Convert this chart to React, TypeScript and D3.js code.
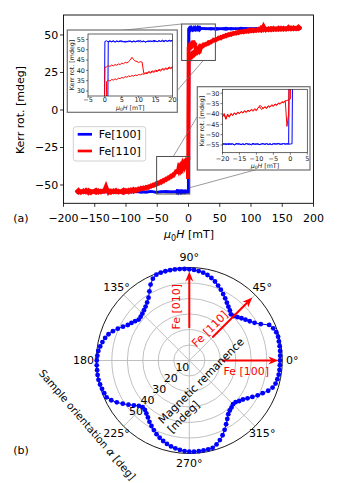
import React from 'react';
import * as d3 from 'd3';

// ---------------- data ----------------
const H_NEG_RED = d3.range(-180, -20, 4); // -180 .. -24
const H_POS_RED = d3.range(24, 181, 4); // 24 .. 180
const H_FINE = d3.range(-20, 20.25, 0.5); // -20 .. 20
const H_NEG_BLUE = d3.range(-180, -20, 8); // -180 .. -28
const H_POS_BLUE = d3.range(28, 181, 8); // 28 .. 180

const redUpNeg = [-54.8,-53.2,-55.1,-53.6,-54.9,-53.4,-55.3,-54.0,-53.1,-55.0,-53.8,-54.6,-50.5,-55.2,-53.7,-54.8,-53.3,-55.0,-54.1,-53.0,-54.6,-53.2,-54.4,-52.6,-53.9,-52.3,-53.1,-51.6,-52.4,-50.8,-51.2,-49.6,-50.1,-48.2,-48.6,-46.5,-46.9,-44.8,-44.9,-42.6];
const redDownNeg = [-53.6,-55.2,-54.1,-54.9,-53.3,-55.4,-53.9,-54.7,-55.3,-53.6,-54.9,-53.5,-54.2,-53.4,-55.1,-53.6,-54.9,-53.8,-54.7,-55.4,-53.5,-54.8,-53.0,-54.5,-52.8,-53.6,-51.9,-52.8,-51.2,-51.9,-50.2,-50.6,-48.8,-49.3,-47.4,-47.8,-45.6,-45.9,-43.6,-43.9];
const redUpPos = [42.6,44.2,44.0,45.8,45.9,47.4,47.3,48.8,48.6,50.1,49.6,51.0,50.6,51.8,51.2,52.4,51.7,53.0,52.1,53.4,52.4,53.7,52.8,54.9,53.0,54.2,53.1,54.6,53.3,54.4,53.4,54.8,53.5,54.6,53.7,55.0,53.8,54.9,53.9,55.3];
const redDownPos = [43.8,43.5,45.3,44.9,46.9,46.5,48.2,47.7,49.4,49.0,50.6,50.0,51.5,50.9,52.3,51.6,52.8,52.0,53.5,52.5,53.8,52.7,54.1,52.9,56.2,53.1,54.5,53.2,54.7,53.4,54.9,53.5,54.8,53.6,55.4,53.7,55.1,53.9,55.6,54.2];
const redUpFine = [-41.5,-39.8,-42.3,-40.5,-41.6,-39.9,-40.8,-39.6,-40.4,-39.2,-39.9,-38.8,-39.6,-38.6,-39.3,-38.4,-38.9,-38.0,-38.7,-37.9,-38.4,-36.9,-36.6,-37.8,-37.2,-36.8,-37.4,-36.3,-36.8,-35.9,-36.3,-35.4,-35.9,-34.9,-35.3,-34.4,-34.6,-33.8,-33.5,-33.2,-32.8,34.6,35.2,34.8,35.6,35.3,35.9,35.5,36.2,36.0,36.6,36.3,37.0,36.7,37.3,37.0,37.5,37.2,37.8,37.5,38.0,37.8,38.3,38.1,38.6,38.4,39.0,38.7,39.3,39.1,39.6,39.4,40.1,39.7,40.5,40.1,40.8,40.4,41.2,40.8,41.5];
const redDownFine = [-41.0,-40.3,-42.6,-40.0,-41.2,-39.8,-40.6,-39.5,-40.1,-39.1,-39.7,-38.9,-39.3,-38.5,-39.0,-38.2,-38.6,-37.8,-38.3,-37.5,-37.9,-37.2,-35.9,-36.4,-37.3,-36.5,-36.9,-36.1,-36.5,-35.6,-36.0,-35.2,-35.6,-34.7,-35.0,-34.1,-34.3,-33.6,-46.0,-40.0,41.5,41.7,42.3,41.9,42.6,42.2,42.8,42.5,43.1,42.8,43.5,43.2,43.9,43.6,44.2,45.0,46.3,45.2,44.5,44.3,43.8,44.2,44.0,38.6,38.7,38.9,39.4,39.1,39.7,39.5,40.1,39.8,40.4,40.2,40.9,40.5,41.1,40.9,41.6,41.2,41.8];

const blueUpNeg = [-54.3,-54.9,-54.1,-54.7,-54.4,-55.0,-54.2,-54.8,-54.5,-54.0,-54.9,-54.3,-54.7,-54.2,-55.0,-54.4,-54.8,-54.3,-54.6,-54.5];
const blueDownNeg = [-54.8,-54.2,-54.9,-54.4,-54.7,-54.1,-54.8,-54.3,-55.1,-54.6,-54.2,-54.8,-54.4,-55.0,-54.5,-54.3,-54.9,-54.6,-54.2,-54.7];
const blueUpPos = [53.9,54.4,53.7,54.2,54.6,53.8,54.3,54.0,54.5,53.9,54.4,53.6,54.2,54.7,53.9,54.3,54.0,54.5,53.8,54.2];
const blueDownPos = [54.3,53.8,54.5,54.1,53.7,54.4,53.9,54.6,54.0,54.3,53.8,54.5,54.1,53.9,54.6,54.2,53.8,54.4,54.0,54.3];
const blueUpFine = [-54.6,-54.3,-54.8,-54.5,-54.2,-54.7,-54.4,-54.9,-54.5,-54.3,-54.6,-54.8,-54.4,-54.7,-54.3,-54.5,-54.9,-54.6,-54.2,-54.5,-54.7,-54.4,-54.8,-54.5,-54.3,-54.6,-54.4,-54.8,-54.5,-54.7,-54.3,-54.6,-54.4,-54.2,-54.5,-54.6,-54.3,-54.5,-54.4,-54.6,-54.5,-54.4,53.9,54.3,53.8,54.1,53.7,54.2,53.9,54.4,53.8,54.0,53.6,54.1,53.9,54.3,53.7,54.0,53.8,54.2,53.9,54.5,53.8,54.1,53.7,54.0,54.3,53.9,54.1,53.8,54.2,53.9,54.4,54.0,54.6,54.2,54.5,54.0,54.3,54.1,54.4];
const blueDownFine = [-54.4,-54.7,-54.3,-54.6,-54.8,-54.4,-54.5,-54.9,-54.3,-54.6,-54.4,-54.7,-54.5,-54.8,-54.3,-54.6,-54.4,-54.9,-54.5,-54.7,-54.3,-54.6,-54.8,-54.4,-54.5,-54.7,-54.3,-54.6,-54.4,-54.8,-54.5,-54.3,-54.6,-54.4,-54.7,-54.5,-54.3,-54.6,-54.4,-54.5,54.0,54.3,53.8,54.1,53.9,54.4,53.7,54.2,53.9,54.0,54.3,53.8,54.1,53.7,54.2,54.0,53.8,54.3,53.9,54.1,54.4,53.8,54.0,54.2,53.7,54.1,53.9,54.3,54.0,54.6,54.1,53.9,54.3,54.0,54.2,53.8,54.4,54.1,54.6,54.3,54.5];

const seriesNames = ['Fe[100]', 'Fe[110]'];
const seriesColors = ['#0000ff', '#ff0000'];

const mainXTicks = [-200, -150, -100, -50, 0, 50, 100, 150, 200];
const mainYTicks = [-50, -25, 0, 25, 50];
const inset1XTicks = [-5, 0, 5, 10, 15, 20];
const inset1YTicks = [30, 35, 40, 45, 50, 55];
const inset2XTicks = [-20, -15, -10, -5, 0, 5];
const inset2YTicks = [-55, -50, -45, -40, -35, -30];

// polar: sample orientation (deg) every 3 deg, remanence (mdeg)
const polarAngles = d3.range(0, 360, 3);
const polarRemanence = [58.5,58.7,58.9,59.0,59.1,59.3,59.0,58.0,56.4,51.8,48.6,46.5,44.8,43.3,41.8,40.6,40.1,41.6,42.9,44.5,46.3,48.1,50.0,51.8,53.6,55.1,56.4,57.4,58.0,58.5,58.8,59.1,59.3,59.5,59.6,59.6,59.6,59.3,57.8,55.0,51.5,48.3,46.3,44.8,43.7,42.8,42.2,42.0,43.2,44.5,45.8,48.0,50.5,52.8,54.8,56.2,57.3,58.2,59.0,59.4,59.7,59.8,59.8,59.9,59.9,59.6,59.2,58.8,58.4,56.5,54.0,51.2,48.5,46.0,43.8,42.6,42.8,44.0,45.4,47.2,48.8,50.4,52.0,53.4,54.6,55.7,56.7,57.4,58.0,58.5,58.8,58.9,58.8,58.7,58.6,58.3,56.9,55.0,52.8,50.2,47.5,45.0,42.8,41.5,40.7,39.9,40.2,41.5,42.8,44.8,47.0,49.5,51.8,54.5,56.5,57.6,58.1,58.4,58.5,58.5];
const polarRTicks = [10, 20, 30, 40, 50];
const polarThetaTicks = [0, 45, 90, 135, 180, 225, 270, 315];
const crystalAxes = [
  { name: 'Fe [100]', angle: 0 },
  { name: 'Fe [110]', angle: 45 },
  { name: 'Fe [010]', angle: 90 },
];

// ---------------- helpers ----------------
type Pt = [number, number];
const zip = (xs: number[], ys: number[]): Pt[] => xs.map((x, i) => [x, ys[i]] as Pt);
const redUp: Pt[] = [...zip(H_NEG_RED, redUpNeg), ...zip(H_FINE, redUpFine), ...zip(H_POS_RED, redUpPos)];
const redDown: Pt[] = [...zip(H_NEG_RED, redDownNeg), ...zip(H_FINE, redDownFine), ...zip(H_POS_RED, redDownPos)];
const blueUp: Pt[] = [...zip(H_NEG_BLUE, blueUpNeg), ...zip(H_FINE, blueUpFine), ...zip(H_POS_BLUE, blueUpPos)];
const blueDown: Pt[] = [...zip(H_NEG_BLUE, blueDownNeg), ...zip(H_FINE, blueDownFine), ...zip(H_POS_BLUE, blueDownPos)];
const blueBranches = [blueUp, blueDown];
const redBranches = [redUp, redDown];

const fmt = (v: number) => (v < 0 ? '\u2212' + Math.abs(v) : String(v));
const FONT = 'DejaVu Sans, sans-serif';

// ---------------- layout ----------------
const mainX = d3.scaleLinear().domain([-200, 200]).range([63.5, 313.5]);
const mainY = d3.scaleLinear().domain([-62.2, 63.3]).range([203.3, 15]);

const in1X = d3.scaleLinear().domain([-5, 20]).range([88, 172.5]);
const in1Y = d3.scaleLinear().domain([27.6, 57.6]).range([96, 34]);
const in2X = d3.scaleLinear().domain([-20, 5]).range([222.5, 307.3]);
const in2Y = d3.scaleLinear().domain([-58.7, -28.1]).range([152.7, 89.3]);

const box1 = { x0: -11, x1: 43, y0: 33, y1: 57.3 };
const box2 = { x0: -51, x1: 2, y0: -56, y1: -31 };

const cx = 189.3, cy = 360.5;
const rScale = d3.scaleLinear().domain([0, 60]).range([0, 93]);
const polarPt = (deg: number, r: number): Pt => {
  const a = (deg * Math.PI) / 180;
  return [cx + rScale(r) * Math.cos(a), cy - rScale(r) * Math.sin(a)];
};

function Inset(props: {
  id: string; xs: any; ys: any; xTicks: number[]; yTicks: number[];
  frame: { x: number; y: number; w: number; h: number };
  ylabelX: number; tickY: number; xlabelY: number;
}) {
  const { id, xs, ys, xTicks, yTicks, frame, ylabelX, tickY, xlabelY } = props;
  const [xa, xb] = xs.range();
  const [yb, ya] = ys.range();
  const line = d3.line<Pt>().x((d) => xs(d[0])).y((d) => ys(d[1]));
  return (
    <g>
      <rect x={frame.x} y={frame.y} width={frame.w} height={frame.h} fill="#fff" stroke="#6e6e6e" strokeWidth={1.2} />
      <clipPath id={id}><rect x={xa} y={ya} width={xb - xa} height={yb - ya} /></clipPath>
      <g clipPath={`url(#${id})`}>
        {blueBranches.map((b, i) => <path key={'b' + i} d={line(b) || ''} fill="none" stroke={seriesColors[0]} strokeWidth={1} />)}
        {redBranches.map((b, i) => <path key={'r' + i} d={line(b) || ''} fill="none" stroke={seriesColors[1]} strokeWidth={1} />)}
      </g>
      <rect x={xa} y={ya} width={xb - xa} height={yb - ya} fill="none" stroke="#222" strokeWidth={0.7} />
      {xTicks.map((t) => (
        <g key={'x' + t}>
          <line x1={xs(t)} x2={xs(t)} y1={yb} y2={yb + 2} stroke="#222" strokeWidth={0.6} />
          <text x={xs(t)} y={tickY} fontSize={6.5} textAnchor="middle" fontFamily={FONT} fill="#222">{fmt(t)}</text>
        </g>
      ))}
      {yTicks.map((t) => (
        <g key={'y' + t}>
          <line x1={xa - 2} x2={xa} y1={ys(t)} y2={ys(t)} stroke="#222" strokeWidth={0.6} />
          <text x={xa - 3} y={ys(t) + 2.3} fontSize={6.5} textAnchor="end" fontFamily={FONT} fill="#222">{fmt(t)}</text>
        </g>
      ))}
      <text x={(xa + xb) / 2} y={xlabelY} fontSize={6.3} textAnchor="middle" fontFamily={FONT} fill="#222">
        <tspan fontStyle="italic">μ</tspan><tspan fontSize={4.5} dy={1.2}>0</tspan><tspan fontStyle="italic" dy={-1.2}>H</tspan> [mT]
      </text>
      <text transform={`translate(${ylabelX},${(ya + yb) / 2}) rotate(-90)`} fontSize={6.3} textAnchor="middle" dominantBaseline="central" fontFamily={FONT} fill="#222">Kerr rot. [mdeg]</text>
    </g>
  );
}

function Arrow({ angle }: { angle: number }) {
  const [x0, y0] = polarPt(angle, 21);
  const [x1, y1] = polarPt(angle, 57.5);
  const a = (angle * Math.PI) / 180;
  const ux = Math.cos(a), uy = -Math.sin(a);
  const px = -uy, py = ux;
  const L = 10, Wd = 4, notch = 3;
  const head = [
    [x1, y1],
    [x1 - ux * L + px * Wd, y1 - uy * L + py * Wd],
    [x1 - ux * (L - notch), y1 - uy * (L - notch)],
    [x1 - ux * L - px * Wd, y1 - uy * L - py * Wd],
  ];
  return (
    <g>
      <line x1={x0} y1={y0} x2={x1 - ux * (L - notch)} y2={y1 - uy * (L - notch)} stroke="#ff0000" strokeWidth={2} />
      <path d={'M' + head.map((p) => p.join(',')).join('L') + 'Z'} fill="#ff0000" />
    </g>
  );
}

export default function App() {
  const mainLine = d3.line<Pt>().x((d) => mainX(d[0])).y((d) => mainY(d[1]));
  const [mx0, mx1] = mainX.range();
  const [myb, myt] = mainY.range();
  const closedIdx = [...polarAngles.map((_, i) => i), 0];
  const polarPath = d3.line<number>().x((i) => polarPt(polarAngles[i], polarRemanence[i])[0]).y((i) => polarPt(polarAngles[i], polarRemanence[i])[1])(closedIdx) || '';

  const crystalLabel: Record<string, { x: number; y: number; rot: number }> = {
    'Fe [100]': { x: 246.3, y: 371, rot: 0 },
    'Fe [110]': { x: 210, y: 329.2, rot: -45 },
    'Fe [010]': { x: 176, y: 306.7, rot: -90 },
  };

  return (
    <svg width={340} height={483} style={{ position: 'fixed', left: 0, top: 0, background: '#fff' }} fontFamily={FONT}>
      <rect x={0} y={0} width={340} height={483} fill="#fff" />
      {/* ---------- panel (a) ---------- */}
      <clipPath id="mainclip"><rect x={mx0} y={myt} width={mx1 - mx0} height={myb - myt} /></clipPath>
      <g clipPath="url(#mainclip)">
        {blueBranches.map((b, i) => <path key={'b' + i} d={mainLine(b) || ''} fill="none" stroke={seriesColors[0]} strokeWidth={2.5} />)}
        {redBranches.map((b, i) => <path key={'r' + i} d={mainLine(b) || ''} fill="none" stroke={seriesColors[1]} strokeWidth={3.6} />)}
      </g>
      <rect x={mx0} y={myt} width={mx1 - mx0} height={myb - myt} fill="none" stroke="#000" strokeWidth={0.9} />
      {mainXTicks.map((t) => (
        <g key={'mx' + t}>
          <line x1={mainX(t)} x2={mainX(t)} y1={myb} y2={myb + 3.5} stroke="#000" strokeWidth={0.8} />
          <text x={mainX(t)} y={222} fontSize={11} textAnchor="middle" fill="#000">{fmt(t)}</text>
        </g>
      ))}
      {mainYTicks.map((t) => (
        <g key={'my' + t}>
          <line x1={mx0 - 3.5} x2={mx0} y1={mainY(t)} y2={mainY(t)} stroke="#000" strokeWidth={0.8} />
          <text x={58.3} y={mainY(t) + 4} fontSize={11} textAnchor="end" fill="#000">{fmt(t)}</text>
        </g>
      ))}
      <text x={189} y={238} fontSize={11} textAnchor="middle" fill="#000">
        <tspan fontStyle="italic">μ</tspan><tspan fontSize={8} dy={2.5}>0</tspan><tspan fontStyle="italic" dy={-2.5}>H</tspan> [mT]
      </text>
      <text transform="translate(20,110) rotate(-90)" fontSize={11} textAnchor="middle" dominantBaseline="central" fill="#000">Kerr rot. [mdeg]</text>
      <text x={21} y={221.5} fontSize={11} textAnchor="middle" fill="#000">(a)</text>

      {/* zoom boxes */}
      <rect x={mainX(box1.x0)} y={mainY(box1.y1)} width={mainX(box1.x1) - mainX(box1.x0)} height={mainY(box1.y0) - mainY(box1.y1)} fill="none" stroke="#4d4d4d" strokeWidth={1} />
      <rect x={mainX(box2.x0)} y={mainY(box2.y1)} width={mainX(box2.x1) - mainX(box2.x0)} height={mainY(box2.y0) - mainY(box2.y1)} fill="none" stroke="#4d4d4d" strokeWidth={1} />
      {/* connectors */}
      <line x1={mainX(box1.x0)} y1={mainY(box1.y1)} x2={88} y2={34} stroke="#6e6e6e" strokeWidth={0.7} />
      <line x1={203.3} y1={mainY(box1.y0)} x2={172.5} y2={96} stroke="#6e6e6e" strokeWidth={0.7} />
      <line x1={173.3} y1={mainY(box2.y1)} x2={205} y2={103.7} stroke="#6e6e6e" strokeWidth={0.7} />
      <line x1={mainX(box2.x1)} y1={187.7} x2={256.7} y2={169.5} stroke="#6e6e6e" strokeWidth={0.7} />

      <Inset id="in1" xs={in1X} ys={in1Y} xTicks={inset1XTicks} yTicks={inset1YTicks}
        frame={{ x: 67.3, y: 30, w: 110, h: 82.3 }} ylabelX={71.5} tickY={102.4} xlabelY={110} />
      <Inset id="in2" xs={in2X} ys={in2Y} xTicks={inset2XTicks} yTicks={inset2YTicks}
        frame={{ x: 197.3, y: 86.7, w: 112.7, h: 83.3 }} ylabelX={201} tickY={160.8} xlabelY={168.2} />

      {/* legend */}
      <rect x={73.3} y={126.7} width={72.4} height={34.3} rx={2.5} fill="#fff" fillOpacity={0.8} stroke="#cccccc" strokeWidth={0.9} />
      {seriesNames.map((n, i) => (
        <g key={n}>
          <line x1={77.7} x2={92} y1={134.3 + i * 16.7} y2={134.3 + i * 16.7} stroke={seriesColors[i]} strokeWidth={2.7} />
          <text x={98.7} y={134.3 + i * 16.7 + 4} fontSize={11} fill="#000">{n}</text>
        </g>
      ))}

      {/* ---------- panel (b) ---------- */}
      {polarRTicks.map((r) => (
        <circle key={'rc' + r} cx={cx} cy={cy} r={rScale(r)} fill="none" stroke="#b0b0b0" strokeWidth={0.8} />
      ))}
      {polarThetaTicks.map((t) => {
        const [x, y] = polarPt(t, 60);
        return <line key={'tl' + t} x1={cx} y1={cy} x2={x} y2={y} stroke="#b0b0b0" strokeWidth={0.8} />;
      })}
      <circle cx={cx} cy={cy} r={rScale(60)} fill="none" stroke="#000" strokeWidth={0.9} />
      {polarThetaTicks.map((t) => {
        const a = (t * Math.PI) / 180;
        return (
          <text key={'tt' + t} x={cx + 103 * Math.cos(a)} y={cy - 103 * Math.sin(a)} fontSize={11} textAnchor="middle" dominantBaseline="central" fill="#000">{t}°</text>
        );
      })}
      {polarRTicks.map((r) => {
        const a = (224 * Math.PI) / 180;
        const rr = rScale(r) * 1.04 - 6.5;
        return (
          <text key={'rt' + r} x={cx + rr * Math.cos(a)} y={cy - rr * Math.sin(a)} fontSize={11} textAnchor="middle" dominantBaseline="central" fill="#000">{r}</text>
        );
      })}
      <path d={polarPath} fill="none" stroke="#0000ff" strokeWidth={1} />
      {polarAngles.map((t, i) => {
        const [x, y] = polarPt(t, polarRemanence[i]);
        return <circle key={'pd' + t} cx={x} cy={y} r={2.4} fill="#0000ff" />;
      })}
      {crystalAxes.map((c) => <Arrow key={c.name} angle={c.angle} />)}
      {crystalAxes.map((c) => {
        const p = crystalLabel[c.name];
        return (
          <text key={'cl' + c.name} transform={`translate(${p.x},${p.y}) rotate(${p.rot})`} fontSize={11} textAnchor="middle" dominantBaseline="central" fill="#ff0000">{c.name}</text>
        );
      })}
      <g transform="translate(162.8,424.5) rotate(-45)">
        <text x={0} y={0} fontSize={11} fill="#000">Magnetic remanence</text>
        <text x={0} y={13} fontSize={11} fill="#000">[mdeg]</text>
      </g>
      <text transform="translate(87.5,424.5) rotate(49.3)" fontSize={10.5} textAnchor="middle" dominantBaseline="central" fill="#000">
        Sample orientation <tspan fontStyle="italic">α</tspan> [deg]
      </text>
      <text x={21} y={454} fontSize={11} textAnchor="middle" fill="#000">(b)</text>
    </svg>
  );
}
